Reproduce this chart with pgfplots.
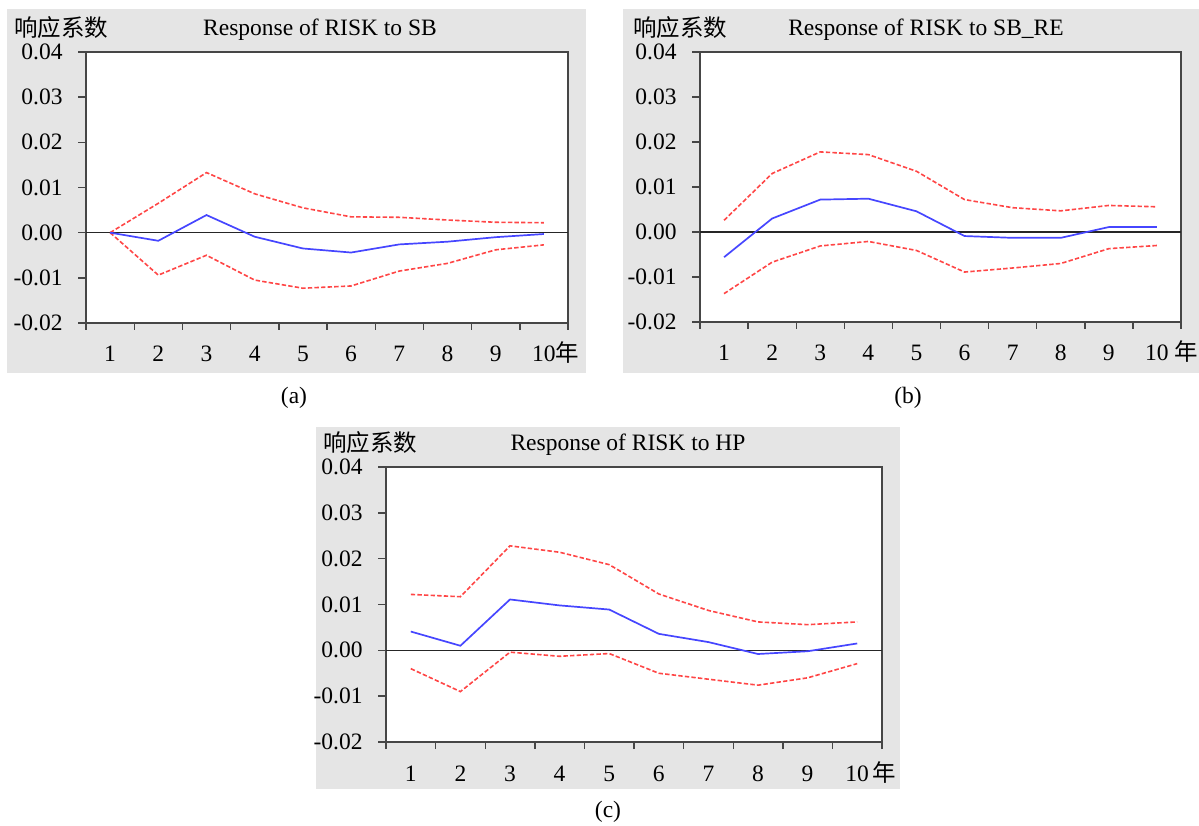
\documentclass[border=0pt]{standalone}
\usepackage{pgfplots}
\pgfplotsset{compat=1.18}
\usepackage{fontspec}
\setmainfont{Liberation Serif}
\newfontfamily\cjk{Noto Sans CJK SC}
\definecolor{bggray}{RGB}{229,229,229}
\definecolor{axgray}{RGB}{70,70,70}
\definecolor{irfblue}{RGB}{70,70,255}
\definecolor{irfred}{RGB}{255,70,70}
\newcommand{\tf}{\fontsize{11.75}{13}\selectfont}
\pgfplotsset{
  irf/.style={
    scale only axis,
    xmin=0.5, xmax=10.5, ymin=-0.02, ymax=0.04,
    scaled y ticks=false,
    axis background/.style={fill=white},
    axis line style={axgray, line width=0.7pt},
    every tick/.style={axgray, line width=0.7pt},
    tick align=outside,
    xtick pos=bottom, ytick pos=left,
    xtick={1,...,10},
    major x tick style={draw=none},
    minor xtick={0.5,1.5,...,10.5},
    minor tick length=3.5pt,
    major tick length=4pt,
    ytick={-0.02,-0.01,0,0.01,0.02,0.03,0.04},
    yticklabels={-0.02,-0.01,0.00,0.01,0.02,0.03,0.04},
    ticklabel style={font=\tf},
    yticklabel style={anchor=east, inner sep=0pt, xshift=-7.5pt},
    xticklabel style={anchor=base, inner sep=0pt, yshift=-15.5pt},
    clip=false,
  },
  up/.style={irfred, line width=0.8pt, dash pattern=on 2.2pt off 1.1pt},
  mid/.style={irfblue, line width=0.85pt},
  zero/.style={black!85, line width=0.6pt},
}
\begin{document}
\begin{tikzpicture}[x=0.5pt,y=0.5pt]
\fill[white] (0,0) rectangle (1199,825);
\fill[bggray] (7,452) rectangle (586,816);
\fill[bggray] (623,452) rectangle (1199,816);
\fill[bggray] (316,36) rectangle (900,398);

% (a)
\begin{axis}[irf, at={(43pt,251pt)}, anchor=south west, width=241pt, height=135.5pt,
  xticklabels={1,2,3,4,5,6,7,8,9,10\rlap{\cjk 年}}]
\addplot[zero] coordinates {(0.5,0) (10.5,0)};
\addplot[up] coordinates {(1,0) (2,0.0065) (3,0.0133) (4,0.0086) (5,0.0055) (6,0.0035) (7,0.0034) (8,0.0028) (9,0.0023) (10,0.0022)};
\addplot[up] coordinates {(1,0) (2,-0.0094) (3,-0.0050) (4,-0.0105) (5,-0.0123) (6,-0.0118) (7,-0.0085) (8,-0.0068) (9,-0.0038) (10,-0.0027)};
\addplot[mid] coordinates {(1,0) (2,-0.0018) (3,0.0039) (4,-0.0009) (5,-0.0035) (6,-0.0044) (7,-0.0026) (8,-0.0020) (9,-0.0010) (10,-0.0003)};
\end{axis}

% (b)
\begin{axis}[irf, at={(350pt,251.5pt)}, anchor=south west, width=240.5pt, height=135pt,
  xticklabels={1,2,3,4,5,6,7,8,9,10\rlap{\ {\cjk 年}}}]
\addplot[zero] coordinates {(0.5,0) (10.5,0)};
\addplot[up] coordinates {(1,0.0026) (2,0.0130) (3,0.0178) (4,0.0172) (5,0.0135) (6,0.0072) (7,0.0054) (8,0.0047) (9,0.0059) (10,0.0056)};
\addplot[up] coordinates {(1,-0.0137) (2,-0.0067) (3,-0.0031) (4,-0.0021) (5,-0.0041) (6,-0.0089) (7,-0.0080) (8,-0.0070) (9,-0.0037) (10,-0.0030)};
\addplot[mid] coordinates {(1,-0.0056) (2,0.0030) (3,0.0072) (4,0.0074) (5,0.0046) (6,-0.0009) (7,-0.0013) (8,-0.0013) (9,0.0011) (10,0.0011)};
\end{axis}

% (c)
\begin{axis}[irf, at={(193pt,41.5pt)}, anchor=south west, width=248pt, height=137.5pt,
  xticklabels={1,2,3,4,5,6,7,8,9,10\rlap{\,{\cjk 年}}}]
\addplot[zero] coordinates {(0.5,0) (10.5,0)};
\addplot[up] coordinates {(1,0.0122) (2,0.0117) (3,0.0228) (4,0.0214) (5,0.0187) (6,0.0123) (7,0.0087) (8,0.0062) (9,0.0056) (10,0.0062)};
\addplot[up] coordinates {(1,-0.0040) (2,-0.0090) (3,-0.0004) (4,-0.0013) (5,-0.0007) (6,-0.0050) (7,-0.0063) (8,-0.0076) (9,-0.0060) (10,-0.0029)};
\addplot[mid] coordinates {(1,0.0041) (2,0.0010) (3,0.0111) (4,0.0098) (5,0.0089) (6,0.0036) (7,0.0018) (8,-0.0008) (9,-0.0002) (10,0.0015)};
\end{axis}

% titles and labels
\node[anchor=base, inner sep=0pt, font=\tf] at (320,789) {Response of RISK to SB};
\node[anchor=base, inner sep=0pt, font=\tf] at (926,789) {Response of RISK to SB\_RE};
\node[anchor=base, inner sep=0pt, font=\tf] at (628,374) {Response of RISK to HP};
\node[anchor=west, inner sep=0pt, font=\fontsize{11.75}{13}\cjk] at (14,797) {响应系数};
\node[anchor=west, inner sep=0pt, font=\fontsize{11.75}{13}\cjk] at (633,797) {响应系数};
\node[anchor=west, inner sep=0pt, font=\fontsize{11.75}{13}\cjk] at (323,382) {响应系数};
\node[inner sep=0pt, font=\tf] at (294,427) {(a)};
\node[inner sep=0pt, font=\tf] at (908,427) {(b)};
\node[inner sep=0pt, font=\tf] at (608,13) {(c)};
\end{tikzpicture}
\end{document}
